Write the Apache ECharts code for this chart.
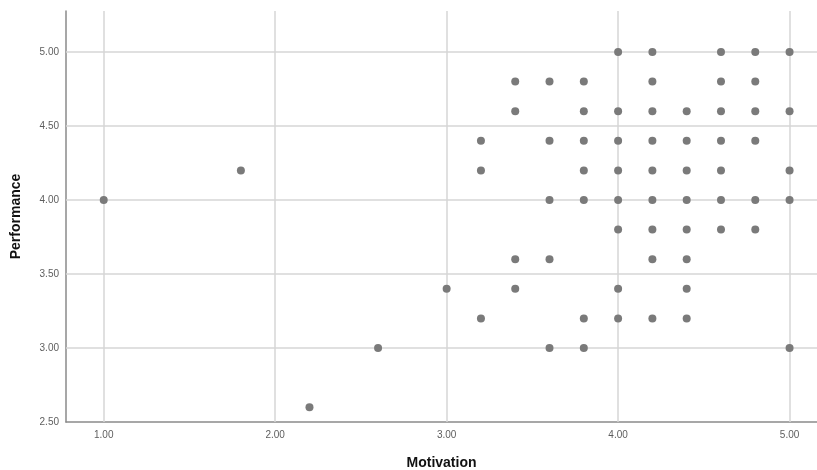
<!DOCTYPE html>
<html>
<head>
<meta charset="utf-8">
<script src="https://cdn.jsdelivr.net/npm/echarts@6/dist/echarts.min.js"></script>
<style>html,body{margin:0;padding:0;background:#fff;}#c{width:817px;height:470px;}</style>
</head>
<body>
<div id="c"></div>
<script>
// Points are grouped by Performance row; each row lists its Motivation values
const perfRows = [5.0, 4.8, 4.6, 4.4, 4.2, 4.0, 3.8, 3.6, 3.4, 3.2, 3.0, 2.6];
const motivationByRow = [
  [4.0, 4.2, 4.6, 4.8, 5.0],
  [3.4, 3.6, 3.8, 4.2, 4.6, 4.8],
  [3.4, 3.8, 4.0, 4.2, 4.4, 4.6, 4.8, 5.0],
  [3.2, 3.6, 3.8, 4.0, 4.2, 4.4, 4.6, 4.8],
  [1.8, 3.2, 3.8, 4.0, 4.2, 4.4, 4.6, 5.0],
  [1.0, 3.6, 3.8, 4.0, 4.2, 4.4, 4.6, 4.8, 5.0],
  [4.0, 4.2, 4.4, 4.6, 4.8],
  [3.4, 3.6, 4.2, 4.4],
  [3.0, 3.4, 4.0, 4.4],
  [3.2, 3.8, 4.0, 4.2, 4.4],
  [2.6, 3.6, 3.8, 5.0],
  [2.2]
];
const xTicks = [1, 2, 3, 4, 5];
const yTicks = [2.5, 3.0, 3.5, 4.0, 4.5, 5.0];

const points = [];
perfRows.forEach((p, i) => motivationByRow[i].forEach(m => points.push([m, p])));

const chart = echarts.init(document.getElementById('c'));
const labelFont = "'Liberation Sans', Arial, sans-serif";
chart.setOption({
  animation: false,
  grid: { left: 66, right: 0, top: 11, bottom: 48, outerBoundsMode: 'none', containLabel: false },
  xAxis: {
    type: 'value', min: 0.78, max: 5.16,
    name: 'Motivation', nameLocation: 'middle', nameGap: 34,
    nameTextStyle: { fontFamily: labelFont, fontWeight: 'bold', fontSize: 14, color: '#111' },
    axisLine: { show: true, onZero: false, lineStyle: { color: '#8a8a8a', width: 1.5 } },
    axisTick: { show: false },
    splitLine: { show: false },
    axisLabel: { show: false }
  },
  yAxis: {
    type: 'value', min: 2.5, max: 5.277,
    name: 'Performance', nameLocation: 'middle', nameGap: 43, nameRotate: 90,
    nameTextStyle: { fontFamily: labelFont, fontWeight: 'bold', fontSize: 14, color: '#111' },
    axisLine: { show: true, onZero: false, lineStyle: { color: '#8a8a8a', width: 1.5 } },
    axisTick: { show: false },
    splitLine: { show: false },
    axisLabel: { show: false }
  },
  series: [
    {
      type: 'scatter', data: [], silent: true, z: 1,
      markLine: {
        silent: true, symbol: 'none', label: { show: false }, z: 1,
        lineStyle: { color: '#d6d6d6', width: 1.5, type: 'solid' },
        data: xTicks.map(v => ({ xAxis: v })).concat(yTicks.filter(v => v > 2.5).map(v => ({ yAxis: v })))
      }
    },
    {
      type: 'scatter', data: points, symbolSize: 8, z: 5,
      itemStyle: { color: '#7a7a7a', opacity: 1 }
    },
    {
      type: 'scatter', data: xTicks.map(v => [v, 2.5]), symbolSize: 0, silent: true,
      label: { show: true, position: 'bottom', distance: 8, formatter: p => p.value[0].toFixed(2),
        fontFamily: labelFont, fontSize: 10, color: '#333' }
    },
    {
      type: 'scatter', data: yTicks.map(v => [0.78, v]), symbolSize: 0, silent: true,
      label: { show: true, position: 'left', distance: 7, formatter: p => p.value[1].toFixed(2),
        fontFamily: labelFont, fontSize: 10, color: '#333' }
    }
  ]
});
</script>
</body>
</html>
